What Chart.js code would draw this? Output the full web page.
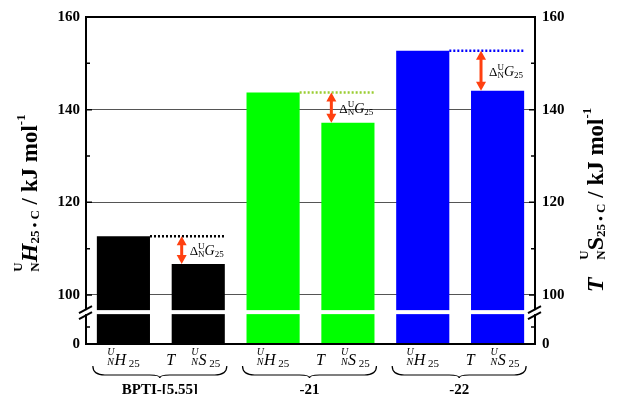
<!DOCTYPE html>
<html>
<head>
<meta charset="utf-8">
<script src="https://cdn.jsdelivr.net/npm/chart.js@4"></script>
<style>
  html, body { margin: 0; padding: 0; background: #fff; }
</style>
</head>
<body>
<canvas id="c" width="618" height="394"></canvas>
<script>
// data
const groups = ['BPTI-[5.55]', '-21', '-22'];
const enthalpy = [112.7, 143.7, 152.7];   // UN H25
const entropy = [106.7, 137.2, 144.1];    // T UN S25
const groupColors = ['#000000', '#00ff00', '#0000ff'];
const dotColors = ['#000000', '#9acd32', '#0000ff'];
const yMajor = [100, 120, 140, 160];
const yMinor = [110, 130, 150];
const yBottom = 89.42;   // shown as "0" under the axis break
const yBreak = 96.3;
const yLowTick = 93.1;

const barLabels = [], barValues = [], barColors = [];
groups.forEach((g, i) => {
  barLabels.push(g + ' H', g + ' S');
  barValues.push(enthalpy[i], entropy[i]);
  barColors.push(groupColors[i], groupColors[i]);
});

const SERIF = '"Liberation Serif", "Times New Roman", serif';

function runsWidth(ctx, runs) {
  let w = 0;
  for (const r of runs) {
    ctx.font = r.f;
    if (r.up !== undefined) w += Math.max(ctx.measureText(r.up).width, ctx.measureText(r.dn).width);
    else w += ctx.measureText(r.t).width;
  }
  return w;
}
function drawRuns(ctx, x, y, runs, center) {
  if (center) x -= runsWidth(ctx, runs) / 2;
  ctx.textAlign = 'left';
  ctx.textBaseline = 'alphabetic';
  for (const r of runs) {
    ctx.font = r.f;
    if (r.up !== undefined) {
      ctx.fillText(r.up, x, y + r.dyUp);
      ctx.fillText(r.dn, x, y + r.dyDn);
      x += Math.max(ctx.measureText(r.up).width, ctx.measureText(r.dn).width);
    } else {
      ctx.fillText(r.t, x, y + (r.dy || 0));
      x += ctx.measureText(r.t).width;
    }
  }
}

const decor = {
  id: 'decor',
  afterDraw(chart) {
    const { ctx, chartArea: a, scales: { y } } = chart;
    const bars = chart.getDatasetMeta(0).data;
    ctx.save();
    ctx.fillStyle = '#000';
    ctx.strokeStyle = '#000';

    // frame
    ctx.lineWidth = 2;
    ctx.strokeRect(a.left, a.top, a.right - a.left, a.bottom - a.top);

    // inward ticks on both sides
    const tick = (v, len) => {
      const py = y.getPixelForValue(v);
      ctx.beginPath();
      ctx.moveTo(a.left, py); ctx.lineTo(a.left + len, py);
      ctx.moveTo(a.right, py); ctx.lineTo(a.right - len, py);
      ctx.stroke();
    };
    ctx.lineWidth = 1.5;
    yMajor.forEach(v => tick(v, 6));
    yMinor.concat([yLowTick]).forEach(v => tick(v, 4));

    // axis break
    const yb = y.getPixelForValue(yBreak);
    ctx.fillStyle = '#fff';
    ctx.fillRect(a.left - 2, yb - 2, a.right - a.left + 4, 4);
    ctx.strokeStyle = '#000';
    ctx.lineWidth = 2;
    [a.left, a.right].forEach(ax => {
      ctx.beginPath();
      ctx.moveTo(ax - 7, yb + 1); ctx.lineTo(ax + 6, yb - 6);
      ctx.moveTo(ax - 7, yb + 7); ctx.lineTo(ax + 6, yb);
      ctx.stroke();
    });

    // dotted level lines, arrows, delta G labels
    groups.forEach((g, i) => {
      const bh = bars[2 * i], bs = bars[2 * i + 1];
      const yH = y.getPixelForValue(enthalpy[i]);
      const yS = y.getPixelForValue(entropy[i]);
      ctx.strokeStyle = dotColors[i];
      ctx.lineWidth = 2.5;
      ctx.setLineDash([2, 2]);
      ctx.beginPath();
      ctx.moveTo(bh.x + bh.width / 2, yH);
      ctx.lineTo(bs.x + bs.width / 2, yH);
      ctx.stroke();
      ctx.setLineDash([]);

      const ax = bs.x - bs.width / 2 + 10;
      ctx.strokeStyle = '#ff4010';
      ctx.fillStyle = '#ff4010';
      ctx.lineWidth = 3;
      ctx.beginPath();
      ctx.moveTo(ax, yH + 6); ctx.lineTo(ax, yS - 6);
      ctx.stroke();
      ctx.beginPath();
      ctx.moveTo(ax, yH); ctx.lineTo(ax - 5, yH + 9); ctx.lineTo(ax + 5, yH + 9); ctx.closePath();
      ctx.moveTo(ax, yS); ctx.lineTo(ax - 5, yS - 9); ctx.lineTo(ax + 5, yS - 9); ctx.closePath();
      ctx.fill();

      ctx.fillStyle = '#000';
      drawRuns(ctx, ax + 8, (yH + yS) / 2 + 5, [
        { t: 'Δ', f: '13px ' + SERIF },
        { up: 'U', dn: 'N', f: '9px ' + SERIF, dyUp: -6, dyDn: 2 },
        { t: 'G', f: 'italic 14px ' + SERIF },
        { t: '25', f: '9px ' + SERIF, dy: 2 }
      ]);
    });

    // labels under bars
    ctx.fillStyle = '#000';
    bars.forEach((b, k) => {
      const runs = k % 2 === 0 ? [
        { up: 'U', dn: 'N', f: 'italic 10px ' + SERIF, dyUp: -10, dyDn: 0 },
        { t: 'H', f: 'italic 16px ' + SERIF },
        { t: ' 25', f: '11px ' + SERIF, dy: 2 }
      ] : [
        { t: 'T    ', f: 'italic 16px ' + SERIF },
        { up: 'U', dn: 'N', f: 'italic 10px ' + SERIF, dyUp: -10, dyDn: 0 },
        { t: 'S', f: 'italic 16px ' + SERIF },
        { t: ' 25', f: '11px ' + SERIF, dy: 2 }
      ];
      drawRuns(ctx, k % 2 === 0 ? b.x : b.x - 5, 365, runs, true);
    });

    // braces and group names
    ctx.strokeStyle = '#000';
    ctx.lineWidth = 1.2;
    groups.forEach((g, i) => {
      const bh = bars[2 * i], bs = bars[2 * i + 1];
      const x0 = bh.x - bh.width / 2 - 4, x1 = bs.x + bs.width / 2 + 2;
      const xm = (x0 + x1) / 2, yT = 366, yB = 375;
      ctx.beginPath();
      ctx.moveTo(x0, yT);
      ctx.quadraticCurveTo(x0, yB, x0 + 12, yB);
      ctx.lineTo(xm - 10, yB);
      ctx.quadraticCurveTo(xm, yB, xm, yB + 3);
      ctx.quadraticCurveTo(xm, yB, xm + 10, yB);
      ctx.lineTo(x1 - 12, yB);
      ctx.quadraticCurveTo(x1, yB, x1, yT);
      ctx.stroke();
      ctx.font = 'bold 15px ' + SERIF;
      ctx.textAlign = 'center';
      ctx.fillText(g, xm, 394);
    });

    // axis titles
    const tail = [
      { t: '25 • C', f: 'bold 13px ' + SERIF, dy: 2 },
      { t: ' / kJ mol', f: 'bold 23px ' + SERIF },
      { t: '-1', f: 'bold 13px ' + SERIF, dy: -12 }
    ];
    ctx.save();
    ctx.translate(37, 193);
    ctx.rotate(-Math.PI / 2);
    drawRuns(ctx, 0, 0, [
      { up: 'U', dn: 'N', f: 'bold 13px ' + SERIF, dyUp: -15, dyDn: 2 },
      { t: 'H', f: 'bold italic 24px ' + SERIF }
    ].concat(tail), true);
    ctx.restore();

    ctx.save();
    ctx.translate(603, 200);
    ctx.rotate(-Math.PI / 2);
    drawRuns(ctx, 0, 0, [
      { t: 'T   ', f: 'bold italic 24px ' + SERIF },
      { up: 'U', dn: 'N', f: 'bold 13px ' + SERIF, dyUp: -15, dyDn: 2 },
      { t: 'S', f: 'bold 24px ' + SERIF }
    ].concat(tail), true);
    ctx.restore();

    ctx.restore();
  }
};

const tickFont = { family: SERIF, size: 15, weight: 'bold' };
const yTicks = s => { s.ticks = [yBottom].concat(yMajor).map(v => ({ value: v })); };
const yLabel = v => (v === yBottom ? '0' : v);

new Chart(document.getElementById('c'), {
  type: 'bar',
  data: {
    labels: barLabels,
    datasets: [{
      data: barValues,
      backgroundColor: barColors,
      borderWidth: 0,
      barPercentage: 0.71,
      categoryPercentage: 1
    }]
  },
  options: {
    responsive: false,
    animation: false,
    layout: { padding: { top: 17, left: 0, right: 0, bottom: 0 } },
    plugins: { legend: { display: false }, tooltip: { enabled: false } },
    scales: {
      x: {
        grid: { display: false },
        ticks: { display: false },
        border: { display: false },
        afterFit: s => { s.height = 50; }
      },
      y: {
        position: 'left',
        min: yBottom, max: 160,
        afterBuildTicks: yTicks,
        ticks: { callback: yLabel, font: tickFont, color: '#000', padding: 6 },
        grid: {
          drawTicks: false,
          lineWidth: 1,
          color: c => ([100, 120, 140].includes(c.tick && c.tick.value) ? '#555' : 'rgba(0,0,0,0)')
        },
        border: { display: false },
        afterFit: s => { s.width = 86; }
      },
      y2: {
        position: 'right',
        min: yBottom, max: 160,
        afterBuildTicks: yTicks,
        ticks: { callback: yLabel, font: tickFont, color: '#000', padding: 7 },
        grid: { display: false, drawTicks: false },
        border: { display: false },
        afterFit: s => { s.width = 83; }
      }
    }
  },
  plugins: [decor]
});
</script>
</body>
</html>
